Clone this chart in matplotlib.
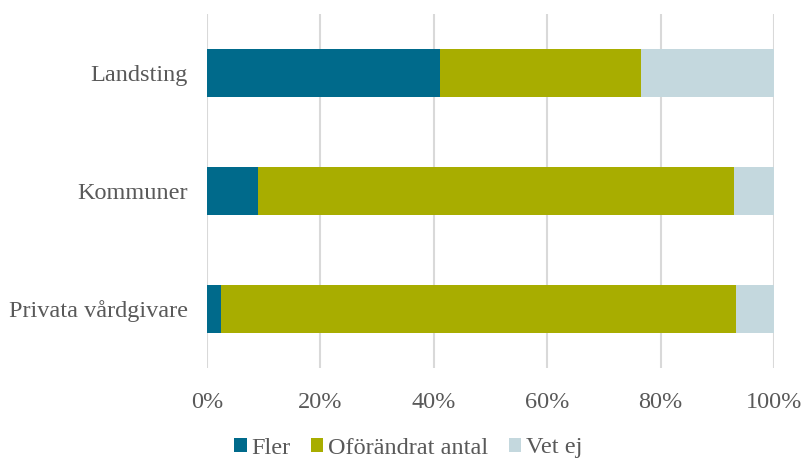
import numpy as np
import matplotlib.pyplot as plt
from matplotlib.ticker import PercentFormatter

plt.rcParams["font.family"] = ["Liberation Serif", "DejaVu Serif"]

# data (percent), bottom to top
categories = ["Privata vårdgivare", "Kommuner", "Landsting"]
fler = [2.5, 9.0, 41.1]
oforandrat = [90.8, 84.0, 35.4]
vet_ej = [6.7, 7.0, 23.5]

series = [("Fler", fler, "#006a8b"),
          ("Oförändrat antal", oforandrat, "#a8ad00"),
          ("Vet ej", vet_ej, "#c4d8de")]

fs = 17.5

fig = plt.figure(figsize=(8.04, 4.58), dpi=100)
ax = fig.add_axes([207 / 804, 1 - 368 / 458, (774 - 207) / 804, (368 - 14) / 458])

y = np.arange(len(categories))
left = np.zeros(len(categories))
for name, vals, col in series:
    ax.barh(y, vals, left=left, height=0.4, color=col, label=name, zorder=3)
    left += np.array(vals)

ax.set_xlim(0, 100)
ax.set_ylim(-0.5, 2.5)
ax.set_xticks(np.arange(0, 101, 20))
ax.xaxis.set_major_formatter(PercentFormatter(decimals=0))
ax.set_yticks(y)
ax.set_yticklabels(categories)
ax.grid(axis="x", color="#d9d9d9", linewidth=1.5, zorder=0)
for s in ax.spines.values():
    s.set_visible(False)
ax.tick_params(length=0, labelsize=fs, colors="#595959")
ax.tick_params(axis="y", pad=14)
ax.tick_params(axis="x", pad=17)

leg = fig.legend(loc="center", bbox_to_anchor=(0.508, 1 - 448 / 458), ncol=3,
                 frameon=False, fontsize=fs, handlelength=0.5, handleheight=0.5,
                 columnspacing=0.85, handletextpad=0.2)
for t in leg.get_texts():
    t.set_color("#595959")

fig.savefig("out.png", dpi=100)
